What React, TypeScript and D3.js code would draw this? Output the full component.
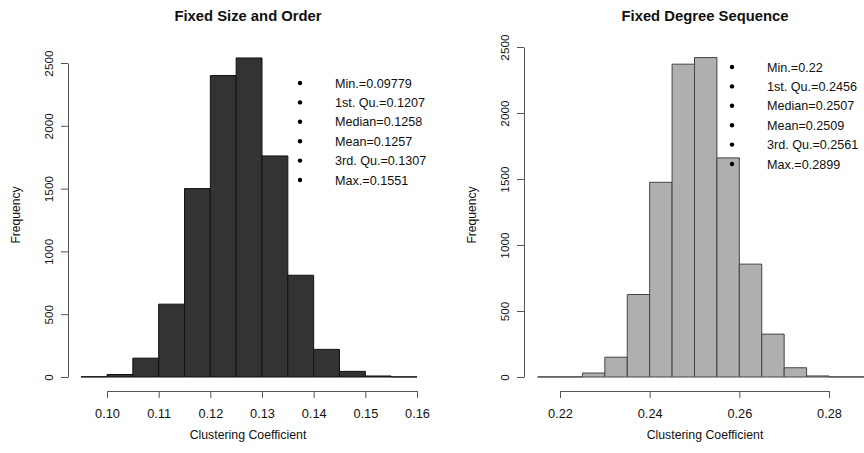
import React, { useEffect, useRef } from "react";
import * as d3 from "d3";

// histogram counts, bins of width 0.005
const binWidth = 0.005;
const sizeOrderStart = 0.095;
const sizeOrderCounts = [2, 20, 150, 580, 1500, 2400, 2540, 1760, 810, 220, 45, 8, 1];
const degreeSeqStart = 0.215;
const degreeSeqCounts = [1, 1, 30, 150, 625, 1475, 2370, 2420, 1660, 855, 325, 70, 8, 1, 1];

const sizeOrderTicks = [0.1, 0.11, 0.12, 0.13, 0.14, 0.15, 0.16];
const degreeSeqTicks = [0.22, 0.24, 0.26, 0.28];
const freqTicks = [0, 500, 1000, 1500, 2000, 2500];

const sizeOrderStats = ["Min.=0.09779", "1st. Qu.=0.1207", "Median=0.1258", "Mean=0.1257", "3rd. Qu.=0.1307", "Max.=0.1551"];
const degreeSeqStats = ["Min.=0.22", "1st. Qu.=0.2456", "Median=0.2507", "Mean=0.2509", "3rd. Qu.=0.2561", "Max.=0.2899"];

const FONT = "'Liberation Sans', Arial, sans-serif";

export default function App() {
  const ref = useRef<SVGSVGElement>(null);

  useEffect(() => {
    const svg = d3.select(ref.current);
    svg.selectAll("*").remove();

    const panels = [
      {
        title: "Fixed Size and Order",
        start: sizeOrderStart, counts: sizeOrderCounts, ticks: sizeOrderTicks, stats: sizeOrderStats,
        x: d3.scaleLinear().domain([0.1, 0.16]).range([107, 417]),
        y: d3.scaleLinear().domain([0, 2500]).range([377, 63]),
        axisX: 68, center: 248, fill: "#333333", stroke: "#111111",
        statX: 300, statY: 83,
      },
      {
        title: "Fixed Degree Sequence",
        start: degreeSeqStart, counts: degreeSeqCounts, ticks: degreeSeqTicks, stats: degreeSeqStats,
        x: d3.scaleLinear().domain([0.22, 0.28]).range([560, 829]),
        y: d3.scaleLinear().domain([0, 2500]).range([377, 47]),
        axisX: 524, center: 705, fill: "#afafaf", stroke: "#444444",
        statX: 732, statY: 67,
      },
    ];

    panels.forEach((p) => {
      const g = svg.append("g");

      // bars (paths so empty bins still show as a line)
      g.selectAll("path.bar").data(p.counts).join("path").attr("class", "bar")
        .attr("d", (d, i) => {
          const x0 = p.x(p.start + i * binWidth), x1 = p.x(p.start + (i + 1) * binWidth);
          const y0 = p.y(0), y1 = p.y(d);
          return `M${x0},${y0}V${y1}H${x1}V${y0}Z`;
        })
        .attr("fill", p.fill).attr("stroke", p.stroke).attr("stroke-width", 1);

      // x axis
      const xa = g.append("g").attr("transform", "translate(0,391)")
        .call(d3.axisBottom(p.x).tickValues(p.ticks).tickSize(7).tickSizeOuter(0).tickFormat(d3.format(".2f")));
      xa.selectAll("text").attr("y", 27).attr("dy", 0).attr("font-size", 12.8).attr("fill", "#111");

      // y axis
      const ya = g.append("g").attr("transform", `translate(${p.axisX},0)`)
        .call(d3.axisLeft(p.y).tickValues(freqTicks).tickSize(7).tickSizeOuter(0).tickFormat(d3.format("d")));
      ya.selectAll("text").attr("transform", "rotate(-90)").attr("x", 0).attr("y", -15).attr("dy", 0)
        .attr("text-anchor", "middle").attr("font-size", 11.8).attr("fill", "#111");

      [xa, ya].forEach((a) => {
        a.attr("font-family", FONT);
        a.selectAll("path.domain, line").attr("stroke", "#555");
      });

      g.append("text").attr("x", p.center).attr("y", 21).attr("text-anchor", "middle")
        .attr("font-family", FONT).attr("font-weight", "bold").attr("font-size", 14.8).attr("fill", "#111")
        .text(p.title);
      g.append("text").attr("x", p.center).attr("y", 439).attr("text-anchor", "middle")
        .attr("font-family", FONT).attr("font-size", 12.3).attr("fill", "#111")
        .text("Clustering Coefficient");
      g.append("text").attr("transform", `translate(${p.axisX - 48.5},215) rotate(-90)`)
        .attr("text-anchor", "middle").attr("font-family", FONT).attr("font-size", 12.1).attr("fill", "#111")
        .text("Frequency");

      // summary legend
      const rows = g.selectAll("g.stat").data(p.stats).join("g").attr("class", "stat")
        .attr("transform", (d, i) => `translate(0,${p.statY + i * 19.4})`);
      rows.append("circle").attr("cx", p.statX).attr("cy", 0).attr("r", 2.2).attr("fill", "#000");
      rows.append("text").attr("x", p.statX + 35).attr("y", 4.5)
        .attr("font-family", FONT).attr("font-size", 12.6).attr("fill", "#111")
        .text((d) => d);
    });
  }, []);

  return (
    <svg ref={ref} width={864} height={453}
      style={{ position: "absolute", left: 0, top: 0, background: "#fff" }} />
  );
}
